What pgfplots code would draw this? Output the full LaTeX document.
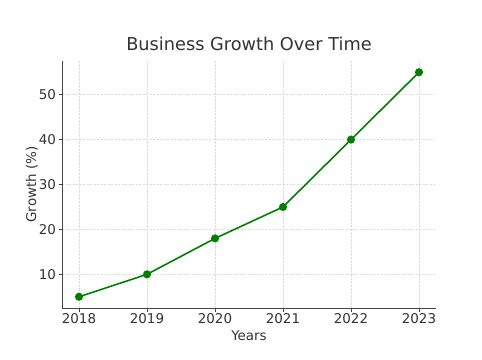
\documentclass[border=0pt]{standalone}
\usepackage{pgfplots}
\pgfplotsset{compat=1.18}
\usepackage{fontspec}
\setmainfont{DejaVu Sans}
\definecolor{txt}{HTML}{333333}
\definecolor{spine}{HTML}{444444}
\begin{document}
\begin{tikzpicture}[x=1bp,y=1bp]
\path (0,0) rectangle (482,359);
\begin{axis}[
  at={(62bp,51bp)}, anchor=origin,
  scale only axis, width=374bp, height=247bp,
  xmin=2017.75, xmax=2023.25, ymin=2.5, ymax=57.5,
  xtick={2018,...,2023}, ytick={10,20,...,50},
  xticklabel style={/pgf/number format/1000 sep={}, yshift=2bp},
  yticklabel style={xshift=1bp},
  /pgf/number format/assume math mode=true,
  tick label style={font=\fontsize{13.5}{16}\selectfont, text=txt},
  label style={font=\fontsize{13.5}{16}\selectfont, text=txt},
  title style={font=\fontsize{17.8}{21}\selectfont, text=txt, at={(axis description cs:0.5,1)}, anchor=base, yshift=5bp},
  title={Business Growth Over Time},
  xlabel={Years}, ylabel={Growth (\%)},
  xlabel style={at={(axis description cs:0.5,0)}, anchor=base, yshift=-32bp},
  ylabel style={at={(axis description cs:-0.0695,0.5)}, anchor=base, rotate=0},
  axis x line*=bottom, axis y line*=left,
  axis line style={spine, line width=0.9pt, -},
  tick align=outside, major tick length=3.5bp,
  tick style={spine, line width=0.8pt},
  grid=major,
  grid style={dash pattern=on 2.2bp off 1.3bp, gray!28, line width=0.75pt},
]
\addplot[color={rgb,255:red,0;green,128;blue,0}, line width=1.6pt, mark=*, mark size=3.2bp]
  coordinates {(2018,5) (2019,10) (2020,18) (2021,25) (2022,40) (2023,55)};
\end{axis}
\end{tikzpicture}
\end{document}
